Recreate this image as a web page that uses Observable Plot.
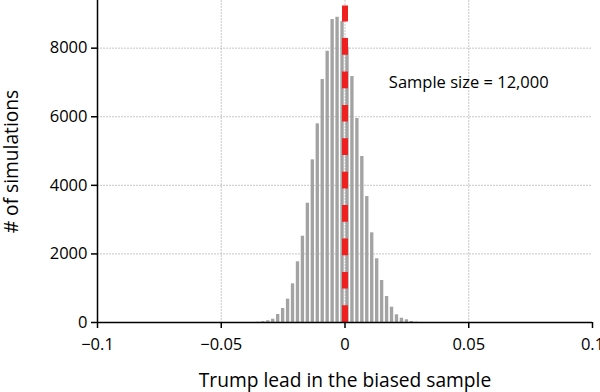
<!DOCTYPE html>
<html><head><meta charset="utf-8">
<script src="https://cdn.jsdelivr.net/npm/d3@7"></script>
<script src="https://cdn.jsdelivr.net/npm/@observablehq/plot@0.6"></script>
<style>
html,body{margin:0;padding:0;background:#fff}
svg{font-family:"Open Sans",sans-serif;overflow:visible}
</style>
</head><body><div id="chart"></div>
<script>
// Histogram bins (centers) and counts
const binCenters = [-0.035,-0.033,-0.031,-0.029,-0.027,-0.025,-0.023,-0.021,-0.019,-0.017,-0.015,-0.013,-0.011,-0.009,-0.007,-0.005,-0.003,-0.001,0.001,0.003,0.005,0.007,0.009,0.011,0.013,0.015,0.017,0.019,0.021,0.023,0.025,0.027,0.029];
const counts = [6,25,50,96,233,408,680,1128,1770,2516,3478,4743,5793,7085,7910,8834,8901,8776,8026,7172,5950,4840,3673,2615,1857,1224,758,446,224,125,79,30,10];
const binWidth = 0.002;
const xTicks = [-0.1,-0.05,0,0.05,0.1];
const yTicks = [0,2000,4000,6000,8000];
const xGrid = [-0.05,0,0.05];
const yGrid = [2000,4000,6000,8000];
const refLineX = [0];
const refLineTop = 9230;
const annotation = [{x:0.05, y:7000, text:"Sample size = 12,000"}];
const xLabel = "Trump lead in the biased sample";
const yLabel = "# of simulations";

const bins = binCenters.map((c,i)=>({x1:c-binWidth/2, x2:c+binWidth/2, count:counts[i]}));
const fmt = d3.format("");

const chart = Plot.plot({
  width: 600, height: 392,
  marginLeft: 97, marginRight: 8, marginTop: 0, marginBottom: 70,
  x: {domain:[-0.1,0.1]},
  y: {domain:[0,9390]},
  style: {fontFamily:'"Open Sans", sans-serif', color:"#000", background:"#fff"},
  marks: [
    Plot.gridX(xGrid, {stroke:"#999", strokeOpacity:0.55, strokeDasharray:"2,1"}),
    Plot.gridY(yGrid, {stroke:"#999", strokeOpacity:0.55, strokeDasharray:"2,1"}),
    Plot.rectY(bins, {x1:"x1", x2:"x2", y:"count", fill:"#a3a3a3", insetLeft:0.8, insetRight:0.8}),
    Plot.ruleX(refLineX, {y1:0, y2:refLineTop, stroke:"#ee2020", strokeWidth:6, strokeDasharray:"16.7,16.7"}),
    Plot.ruleY([0], {stroke:"#000", strokeWidth:1.5}),
    Plot.ruleX([-0.1], {stroke:"#000", strokeWidth:1.5}),
    Plot.axisX(xTicks, {tickSize:6, tickPadding:10, fontSize:16.5, tickFormat:fmt, label:null, strokeWidth:1.5}),
    Plot.axisY(yTicks, {tickSize:6, tickPadding:4, fontSize:16.5, tickFormat:fmt, label:null, strokeWidth:1.5}),
    Plot.text(annotation, {x:"x", y:"y", text:"text", fontSize:16.5, fill:"#000"}),
    Plot.text([xLabel], {frameAnchor:"bottom", textAnchor:"middle", lineAnchor:"bottom", dy:64, fontSize:19.2, fill:"#000"}),
    Plot.text([yLabel], {frameAnchor:"left", textAnchor:"middle", lineAnchor:"middle", dx:-86, rotate:-90, fontSize:19.2, fill:"#000"})
  ]
});
document.getElementById("chart").appendChild(chart);
</script>
</body></html>
